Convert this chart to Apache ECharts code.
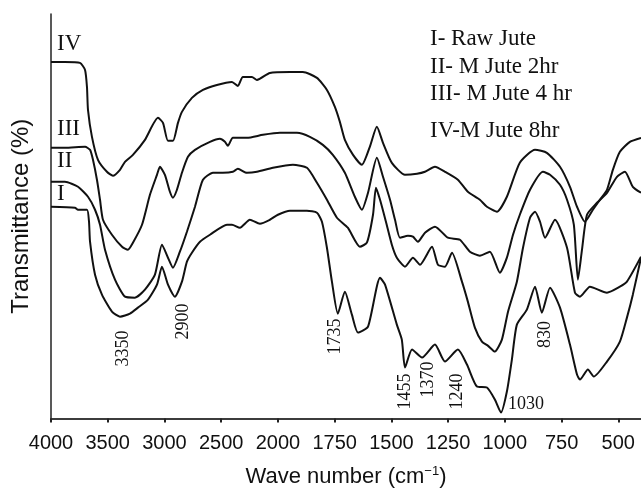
<!DOCTYPE html>
<html>
<head>
<meta charset="utf-8">
<script src="https://cdn.jsdelivr.net/npm/echarts@6/dist/echarts.min.js"></script>
<style>
  html, body { margin: 0; padding: 0; background: #fff; }
  #chart { width: 641px; height: 493px; }
</style>
</head>
<body>
<div id="chart"></div>
<script>
// FTIR spectra, [wave number (cm-1), transmittance (arb.)]
var curveI = [
  [4000,212],[3789,211],[3762,209],[3683,209],[3665,197],[3656,177],[3612,144],[3551,124],
  [3463,107],[3392,102],[3304,105],[3234,111],[3145,119],[3066,134],[3022,152],[2969,134],
  [2908,122],[2846,137],[2802,157],[2758,166],[2687,177],[2599,184],[2449,194],[2405,194],
  [2335,191],[2247,199],[2159,195],[2071,199],[2000,204],[1947,208],[1872,208],[1828,206],
  [1806,197],[1784,171],[1762,137],[1736,105],[1705,127],[1674,104],[1647,86],[1603,92],
  [1550,141],[1528,134],[1476,94],[1454,79],[1440,51],[1409,69],[1365,61],[1308,74],
  [1264,57],[1207,69],[1167,54],[1123,32],[1079,31],[1044,19],[1017,6],[991,27],[969,59],
  [947,94],[903,109],[867,132],[837,106],[801,131],[757,111],[713,74],[682,44],[669,39],
  [634,49],[608,42],[550,57],[493,77],[462,101],[436,124],[400,161]
];
var curveII = [
  [4000,237],[3877,237],[3762,232],[3674,222],[3612,209],[3568,194],[3524,169],[3436,139],
  [3348,122],[3260,121],[3172,129],[3084,144],[3022,174],[2969,161],[2925,151],[2864,167],
  [2802,187],[2731,212],[2661,239],[2573,246],[2485,246],[2397,247],[2353,250],[2273,246],
  [2185,247],[2044,251],[1934,254],[1872,251],[1828,236],[1784,219],[1740,201],[1692,191],
  [1639,172],[1608,176],[1581,204],[1568,231],[1550,219],[1524,197],[1498,174],[1476,161],
  [1440,152],[1405,161],[1374,154],[1321,172],[1295,154],[1264,152],[1233,166],[1189,137],
  [1163,117],[1132,91],[1101,77],[1075,73],[1044,67],[1013,79],[986,107],[947,137],
  [920,171],[889,201],[867,207],[845,197],[823,181],[779,199],[726,171],[691,126],
  [669,122],[625,132],[550,126],[493,132],[462,137],[400,162]
];
var curveIII = [
  [4000,271],[3877,271],[3700,272],[3656,269],[3630,259],[3595,239],[3568,219],[3542,199],
  [3463,184],[3374,172],[3322,169],[3278,176],[3198,194],[3128,224],[3066,244],[3040,252],
  [2996,244],[2952,227],[2925,221],[2890,229],[2846,246],[2793,262],[2731,269],[2599,277],
  [2511,280],[2467,277],[2441,273],[2397,281],[2273,281],[2132,284],[1991,286],[1916,286],
  [1859,282],[1802,274],[1758,264],[1705,246],[1661,222],[1630,209],[1603,226],[1564,261],
  [1537,242],[1506,219],[1484,199],[1462,181],[1427,183],[1405,182],[1383,177],[1352,186],
  [1308,192],[1251,181],[1198,179],[1154,167],[1110,163],[1066,167],[1022,146],[991,161],
  [964,184],[934,204],[889,229],[832,247],[801,244],[757,234],[726,219],[696,194],
  [678,139],[660,169],[638,204],[594,216],[550,226],[506,242],[471,247],[436,232],[400,226]
];
var curveIV = [
  [4000,357],[3877,357],[3745,356],[3700,349],[3683,332],[3674,309],[3639,282],[3586,259],
  [3507,247],[3454,243],[3392,249],[3348,257],[3278,264],[3172,279],[3057,301],[3013,296],
  [2969,278],[2925,278],[2881,296],[2846,307],[2758,321],[2661,329],[2538,334],[2405,337],
  [2353,333],[2309,342],[2229,342],[2185,339],[2071,346],[1947,347],[1890,347],[1828,341],
  [1784,329],[1749,312],[1727,297],[1705,279],[1669,264],[1630,254],[1595,272],[1564,292],
  [1537,276],[1498,256],[1440,244],[1387,245],[1352,247],[1308,252],[1264,247],[1207,239],
  [1163,227],[1110,219],[1079,212],[1035,207],[991,222],[934,256],[867,269],[815,266],
  [757,252],[713,232],[682,212],[647,197],[612,209],[581,219],[550,229],[524,249],
  [493,267],[449,277],[400,281]
];

var tickValues = [4000, 3500, 3000, 2500, 2000, 1750, 1500, 1250, 1000, 750, 500];
var legendLines = ['I- Raw Jute', 'II- M Jute 2hr', 'III- M Jute 4 hr', 'IV-M Jute 8hr'];
var curveNames = ['I', 'II', 'III', 'IV'];

// peak annotations: text, wave number, transmittance, rotated?
var peakText = ['3350', '2900', '1735', '1455', '1370', '1240', '1030', '830'];
var peakW = [3366, 2837, 1749, 1440, 1339, 1211, 907, 823];
var peakT = [70, 97, 82, 27, 39, 27, 14, 84];
var peakVertical = [true, true, true, true, true, true, false, true];

// the scale halves above 2000 cm-1
function toU(w) { return w >= 2000 ? (4000 - w) / 2 : 1000 + (2000 - w); }
function fromU(u) { return u <= 1000 ? 4000 - 2 * u : 2000 - (u - 1000); }

var chart = echarts.init(document.getElementById('chart'));

var lineSeries = [curveI, curveII, curveIII, curveIV].map(function (c, i) {
  return {
    name: curveNames[i],
    type: 'line',
    data: c.map(function (p) { return [toU(p[0]), p[1]]; }),
    showSymbol: false,
    smooth: 0.2,
    lineStyle: { color: '#111', width: 2 },
    silent: true
  };
});

var peakSeries = {
  type: 'scatter',
  symbolSize: 0,
  silent: true,
  itemStyle: { opacity: 1 },
  data: peakText.map(function (t, i) {
    return {
      value: [toU(peakW[i]), peakT[i]],
      label: {
        show: true,
        formatter: t,
        position: 'inside',
        rotate: peakVertical[i] ? 90 : 0,
        fontFamily: 'Liberation Serif',
        fontSize: 18,
        color: '#111',
        opacity: 1,
        textBorderWidth: 0
      }
    };
  })
};

var graphics = [];
var legendY = [39, 67, 94, 131];
legendLines.forEach(function (t, i) {
  graphics.push({
    type: 'text', left: 430, top: legendY[i] - 12,
    style: { text: t, font: '23px "Liberation Serif"', fill: '#111' }
  });
});
var nameY = [195, 162, 130, 45];
curveNames.forEach(function (t, i) {
  graphics.push({
    type: 'text', left: 57, top: nameY[i] - 13,
    style: { text: t, font: '23px "Liberation Serif"', fill: '#111' }
  });
});

chart.setOption({
  animation: false,
  backgroundColor: '#fff',
  grid: { left: 51, right: 0, top: 14, bottom: 74 },
  xAxis: [{
    type: 'value',
    min: 0,
    max: 2600,
    interval: 250,
    name: 'Wave number (cm{sup|\u22121})',
    nameLocation: 'middle',
    nameGap: 46,
    nameTextStyle: {
      fontFamily: 'Liberation Sans',
      fontSize: 22,
      color: '#111',
      rich: {
        sup: { fontFamily: 'Liberation Sans', fontSize: 13, color: '#111', padding: [0, 0, 12, 0] }
      }
    },
    axisLine: { show: true, onZero: false, lineStyle: { color: '#222', width: 1.5 } },
    axisTick: { show: true, length: 4, lineStyle: { color: '#222', width: 2 } },
    axisLabel: {
      margin: 15,
      fontFamily: 'Liberation Sans',
      fontSize: 20,
      color: '#111',
      showMaxLabel: false,
      formatter: function (u) {
        var w = fromU(u);
        return tickValues.indexOf(w) >= 0 ? String(w) : '';
      }
    },
    splitLine: { show: false }
  }, {
    type: 'value',
    position: 'top',
    min: 0,
    max: 2600,
    axisLine: { show: true, lineStyle: { color: '#333', width: 1.5 } },
    axisTick: { show: false },
    axisLabel: { show: false },
    splitLine: { show: false }
  }],
  yAxis: {
    type: 'value',
    min: 0,
    max: 405,
    name: 'Transmittance (%)',
    nameLocation: 'middle',
    nameGap: 18,
    nameTextStyle: { fontFamily: 'Liberation Sans', fontSize: 24, color: '#111' },
    axisLine: { show: true, lineStyle: { color: '#222', width: 1.5 } },
    axisTick: { show: false },
    axisLabel: { show: false },
    splitLine: { show: false }
  },
  series: lineSeries.concat([peakSeries]),
  graphic: graphics
});
</script>
</body>
</html>
